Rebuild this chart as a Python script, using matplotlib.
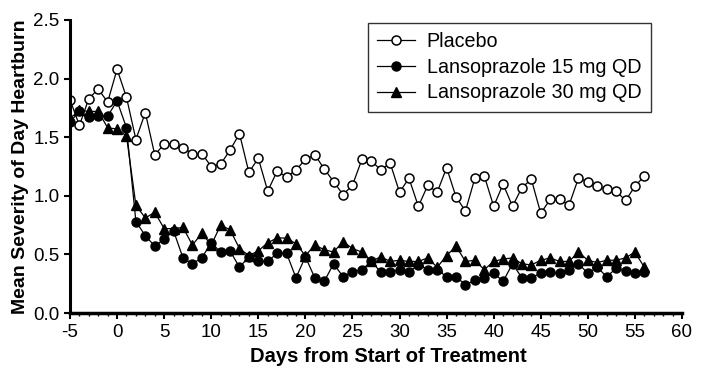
import matplotlib.pyplot as plt
import numpy as np

plt.rcParams['font.family'] = ['Liberation Sans', 'DejaVu Sans']
plt.rcParams['axes.unicode_minus'] = False

# days -5 .. 56
days = np.arange(-5, 57)

placebo = [1.82, 1.60, 1.83, 1.91, 1.80, 2.08, 1.84, 1.48, 1.71, 1.35,
           1.44, 1.44, 1.41, 1.36, 1.36, 1.25, 1.27, 1.39, 1.53, 1.20,
           1.32, 1.04, 1.21, 1.16, 1.22, 1.31, 1.35, 1.23, 1.12, 1.01,
           1.09, 1.31, 1.30, 1.22, 1.28, 1.03, 1.15, 0.91, 1.09, 1.03,
           1.24, 0.99, 0.87, 1.15, 1.17, 0.91, 1.10, 0.91, 1.07, 1.14,
           0.85, 0.97, 0.97, 0.92, 1.15, 1.12, 1.08, 1.06, 1.04, 0.96,
           1.08, 1.17]

lanso15 = [1.63, 1.72, 1.67, 1.68, 1.68, 1.81, 1.58, 0.78, 0.66, 0.57,
           0.63, 0.70, 0.47, 0.42, 0.47, 0.60, 0.52, 0.53, 0.39, 0.48,
           0.44, 0.44, 0.51, 0.51, 0.30, 0.48, 0.30, 0.27, 0.42, 0.31,
           0.35, 0.37, 0.44, 0.35, 0.35, 0.37, 0.35, 0.41, 0.37, 0.37,
           0.31, 0.31, 0.24, 0.28, 0.30, 0.34, 0.27, 0.42, 0.30, 0.30,
           0.34, 0.35, 0.34, 0.37, 0.42, 0.34, 0.39, 0.31, 0.38, 0.36,
           0.34, 0.35]

lanso30 = [1.66, 1.73, 1.72, 1.72, 1.58, 1.57, 1.51, 0.92, 0.81, 0.86,
           0.72, 0.72, 0.73, 0.58, 0.68, 0.58, 0.75, 0.71, 0.55, 0.49,
           0.53, 0.60, 0.64, 0.64, 0.59, 0.49, 0.58, 0.54, 0.52, 0.61,
           0.55, 0.52, 0.44, 0.48, 0.44, 0.45, 0.44, 0.44, 0.47, 0.39,
           0.49, 0.57, 0.44, 0.45, 0.37, 0.44, 0.46, 0.47, 0.42, 0.41,
           0.45, 0.47, 0.44, 0.44, 0.52, 0.45, 0.43, 0.45, 0.45, 0.47,
           0.52, 0.39]

fig = plt.figure(figsize=(7.24, 3.8), dpi=100)
ax = fig.add_axes([70 / 724, 67 / 380, 612 / 724, 293 / 380])

ax.plot(days, placebo, color='black', lw=0.9, marker='o', ms=6.5,
        mfc='white', mec='black', mew=1.1, label='Placebo')
ax.plot(days, lanso15, color='black', lw=0.9, marker='o', ms=6.5,
        mfc='black', mec='black', label='Lansoprazole 15 mg QD')
ax.plot(days, lanso30, color='black', lw=0.9, marker='^', ms=7,
        mfc='black', mec='black', label='Lansoprazole 30 mg QD')

ax.set_xlim(-5, 60)
ax.set_ylim(0, 2.5)
ax.set_xticks(np.arange(-5, 61, 5))
ax.set_xticks(np.arange(-5, 61, 1), minor=True)
ax.set_yticks(np.arange(0, 2.51, 0.5))
ax.yaxis.set_major_formatter(plt.FormatStrFormatter('%.1f'))

ax.spines['top'].set_visible(False)
ax.spines['right'].set_visible(False)
ax.spines['left'].set_linewidth(2.2)
ax.spines['bottom'].set_linewidth(2.5)
ax.tick_params(axis='both', which='major', labelsize=13.5, width=1.5,
               length=4, direction='out', color='black')
ax.tick_params(axis='x', which='minor', length=2, width=1, direction='out')
ax.tick_params(axis='x', pad=4)

ax.set_xlabel('Days from Start of Treatment', fontsize=14.5, fontweight='bold',
              x=0.52)
ax.set_ylabel('Mean Severity of Day Heartburn', fontsize=14, fontweight='bold',
              labelpad=3)

leg = ax.legend(loc='upper left', bbox_to_anchor=(0.47, 1.025), fontsize=14.2,
                frameon=True, fancybox=False, edgecolor='black',
                handlelength=1.9, handletextpad=0.6, labelspacing=0.33,
                borderpad=0.5)
leg.get_frame().set_linewidth(1.0)

fig.savefig('out.png', dpi=100)
